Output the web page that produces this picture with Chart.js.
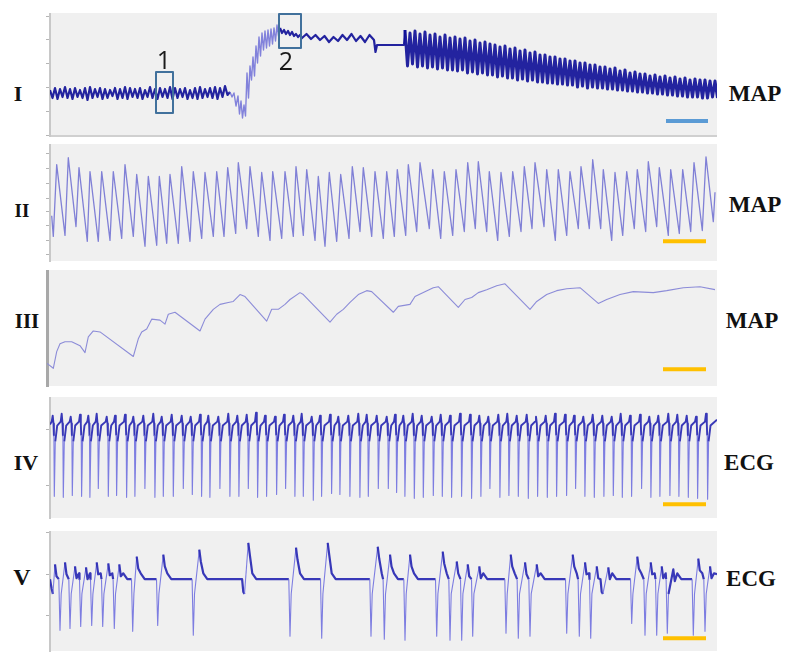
<!DOCTYPE html>
<html><head><meta charset="utf-8">
<script src="https://cdn.jsdelivr.net/npm/chart.js@4.4.0/dist/chart.umd.min.js"></script>
<style>
html,body{margin:0;padding:0;background:#fff;width:800px;height:669px;overflow:hidden;}
.pane{position:absolute;}
.lbl{position:absolute;font-family:'Liberation Serif','DejaVu Serif',serif;font-weight:bold;color:#111;transform:translate(-50%,-50%);white-space:nowrap;line-height:1;}
.num{position:absolute;font-family:'Open Sans','Liberation Sans',sans-serif;color:#1a1a1a;transform:translate(-50%,-50%);line-height:1;}
</style></head><body>
<div class="pane" style="left:44px;top:13px"><canvas id="c1" width="673" height="125"></canvas></div>
<div class="pane" style="left:44px;top:144px"><canvas id="c2" width="673" height="119"></canvas></div>
<div class="pane" style="left:41px;top:270px"><canvas id="c3" width="676" height="118"></canvas></div>
<div class="pane" style="left:44px;top:397px"><canvas id="c4" width="673" height="123"></canvas></div>
<div class="pane" style="left:44px;top:531px"><canvas id="c5" width="673" height="122"></canvas></div>

<div class="lbl" style="left:18px;top:94px;font-size:22px">I</div>
<div class="lbl" style="left:22px;top:210px;font-size:19px">II</div>
<div class="lbl" style="left:27px;top:321px;font-size:21px">III</div>
<div class="lbl" style="left:26px;top:463px;font-size:22px">IV</div>
<div class="lbl" style="left:22px;top:577px;font-size:24px">V</div>
<div class="lbl" style="left:755px;top:93px;font-size:23px">MAP</div>
<div class="lbl" style="left:755px;top:204px;font-size:23px">MAP</div>
<div class="lbl" style="left:752px;top:320px;font-size:23px">MAP</div>
<div class="lbl" style="left:749px;top:462px;font-size:23px">ECG</div>
<div class="lbl" style="left:751px;top:578px;font-size:23px">ECG</div>
<div class="num" style="left:164px;top:59px;font-size:25px">1</div>
<div class="num" style="left:286px;top:60px;font-size:25px">2</div>

<script>
// ---------------- DATA (time in samples, value in panel units) ----------------
// Panel I (MAP): baseline oscillation, transition, plateau, decaying oscillation
const mapI_baseStep = 5;
const mapI_baseHi = [46,48,47,49,47,48,46,48,49,47,48,47,46,48,47,49,48,47,48,46,49,47,48,47,49,48,47,48,46,48,49,47,48,49,48,50];
const mapI_baseLo = [38,37,39,38,37,39,38,36,38,39,37,38,40,37,38,37,39,38,37,39,38,37,39,38,37,38,39,37,38,37,38,39,38,37,39,41];
const mapI_transT = [180,182,184,186,188,189.5,191,192.5,194,195.5,197,198.5,200,201.5,203,204.5,206,207.5,209,210.5,212,213.5,215,216.5,218,219.5,221,222.5,224,225.5,227,228.5,230,232,234,236,238,240,242,244,246,248,250];
const mapI_transV = [44,39,43,30,40,22,35,18,31,20,63,38,70,56,79,60,90,73,99,80,103,86,105,88,106,90,107,92,108,95,111,100,108,103,106,102,105,101,104,100,102,99,101];
const mapI_platT = [252,256.5,261,265.5,270,274.5,279,283.5,288,292.5,297,301.5,306,310.5,315,319.5,324,325.5,327,354];
const mapI_platV = [98,102,97,101,96,100,94,99,95,101,96,102,95,100,94,101,96,84,91,91];
const mapI_decayStart = 355, mapI_decayStep = 5;
const mapI_decayHi = [106,103,105,102,104,101,102,99,101,98,99,97,98,95,96,93,94,92,91,89,90,87,88,85,86,83,84,81,81,79,79,77,77,75,75,73,73,71,71,69,69,67,68,65,66,63,64,62,62,60,61,59,60,58,59,57,58,56,57,56,56,55,55];
const mapI_decayLo = [70,72,69,70,68,69,67,68,66,66,65,66,63,64,62,63,61,61,59,60,58,58,56,57,55,56,54,54,53,53,52,52,51,51,49,50,48,49,48,48,47,47,46,46,45,45,44,44,43,43,42,42,41,41,40,40,39,39,39,38,38,39,38];
const boxI1_x = [106,123], boxI1_y = [23,64];
const boxI2_x = [229,251], boxI2_y = [88,122];
const barI_x = [616,658], barI_y = 15;
const ticksI = [1,25,49,73,96,119];

// Panel II (MAP): troughs and peaks in time order
const mapII_t = [1.7,3.3,6.7,15,18.3,26,29,37.3,40,48.3,51.7,60,63.3,71.7,75,83.3,86.7,95,98.3,106.7,109.3,116.7,120,128.3,131.7,140,143.3,151.7,155,163.3,166.7,174,177.7,185.7,188.3,196.7,200,208.3,211.7,220,222.7,231.7,235,243.3,246,253.3,256.7,265,268.3,275,279.3,286.7,290.7,299,302.3,310,313.3,321.7,325,333.3,336.7,344.3,347.3,355.7,358.3,366.7,370,379.3,382.7,390.7,394.3,402.7,406,414.3,417.7,425.3,428.3,436.7,439.3,447.7,451,459.3,462.7,471,474.3,482,485,494,496.7,505.3,508.3,516.7,520,528.3,531,539.3,542.7,550.7,553.3,561.7,565,572.7,576.7,584.3,587.3,595.7,598.3,606.7,609.3,618.3,620.7,629.3,632.7,640.7,644,652.3,656,663.3,665];
const mapII_v = [46,25,98,26,105,35,95,20,91,20,91,21,91,23,98,25,88,15,86,16,86,18,88,18,96,20,91,23,90,25,91,25,95,28,100,33,96,25,90,21,91,23,91,25,96,26,93,21,86,15,90,20,88,23,96,30,95,25,91,23,91,25,93,26,98,30,100,33,93,23,91,26,93,30,100,33,101,30,91,21,90,25,91,30,96,33,100,35,93,21,93,26,91,33,96,33,103,33,93,21,90,26,91,33,93,30,101,35,95,26,93,28,93,30,100,31,106,40,70];
const barII_x = [613,656], barII_y = 20;
const ticksII = [7,21,36,50,64,79,94,109];

// Panel III (MAP)
const mapIII_t = [0,6.3,9.7,13,18,24.7,33,38,41.3,46.3,53,86.3,91.3,94.7,99.7,104.7,113,118,121.3,128,153,158,166.3,173,181.3,186.3,193,198,219.7,224.7,231.3,238,243,253,256.3,283,289.7,296.3,303,311.3,319.7,324.7,346.3,351.3,363,368,376.3,386.3,391.3,411.3,418,424.7,431.3,439.7,449.7,458,483,489.7,499.7,509.7,519.7,533,551.3,559.7,573,586.3,606.3,619.7,636.3,653,668];
const mapIII_v = [23,18,35,43,45,45,41,34,50,56,55,30,48,55,58,68,67,63,73,75,56,68,78,83,85,86,93,91,66,78,78,83,88,95,93,65,73,78,85,93,97,96,75,81,83,91,95,100,101,80,88,90,95,98,102,104,78,86,93,97,99,100,84,88,93,96,95,97,100,101,98];
const barIII_x = [616,659], barIII_y = 17;
const ticksIII = [];

// Panel IV (ECG): beat times, P/T peak heights, spike depths
const ecgIV_t = [2.7,11.7,20.7,30,38.3,46.7,56.7,65,75,83.3,93.3,103.3,111.7,121.7,131.7,140.7,150,158.3,168.3,178.3,187.3,196.7,206,215,225,234,243.3,251.7,261.7,270,280,288.3,298.3,308.3,316.7,326.7,336.7,345,353.3,362.7,371.7,381.7,390.7,400,410,420,429.3,438.3,448.3,457.3,466.7,476.7,486,495.7,505,515,524,533.3,542.7,552.3,561.7,570.7,580,590,599.3,608.3,618.3,627.3,636.7,646,656];
const ecgIV_peak = [104,106,103,105,104,106,103,104,105,103,104,106,103,105,104,103,105,104,103,106,104,105,107,104,103,105,104,106,103,104,105,103,104,106,105,104,103,105,104,106,104,103,105,104,106,105,104,103,105,106,104,105,103,104,106,105,104,103,105,104,103,106,104,105,103,104,106,105,104,103,106];
const ecgIV_trough = [22,21,23,22,21,30,22,23,21,22,30,21,22,22,30,24,22,21,30,22,22,30,21,22,24,30,22,22,18,22,25,24,22,21,22,30,30,26,22,20,21,23,22,21,22,20,22,30,21,23,22,20,22,21,22,23,30,22,21,22,23,21,22,30,21,22,23,22,21,20,19];
const barIV_x = [613,656], barIV_y = 14;
const ticksIV = [33,90];

// Panel V (ECG): spike times/depths, T-peak times/heights
const ecgV_spikeT = [1.7,10,20,30.7,41.7,52.7,64.3,82.7,107.7,143.3,193.3,240,271.7,321,334.3,355,386.7,400,411.7,422.7,456,468.3,480,516.7,529.3,540.7,551.7,581.7,595,606.7,617.3,643.3,655];
const ecgV_spikeV = [63,21,23,25,26,25,23,20,26,16,60,15,13,15,12,11,15,11,11,15,18,13,15,18,15,13,60,28,16,16,18,16,20];
const ecgV_peakT = [5,15,25,36,46.7,58.3,69.3,86.7,113.3,149.3,198.3,246,277.7,327.7,340,360,392.7,406.7,417.7,429.3,460.7,475,486.7,522.7,535,546.7,558.3,587.3,600.7,611.7,623.3,648.3,660];
const ecgV_peakV = [88,90,86,85,90,89,88,96,98,103,110,105,110,106,98,98,101,91,88,86,98,90,88,98,90,86,85,96,90,86,83,94,86];
const ecgV_base = 73;
const barV_x = [613,656], barV_y = 13;
const ticksV = [36,78,120];

// ---------------- BUILD ----------------
function pairs(ts, vs){ const o=[]; for(let i=0;i<Math.min(ts.length,vs.length);i++) o.push({x:ts[i],y:vs[i]}); return o; }
function hBar(xs, y){ return [{x:xs[0],y:y},{x:xs[1],y:y}]; }
function rect(xs, ys){ return [{x:xs[0],y:ys[0]},{x:xs[1],y:ys[0]},{x:xs[1],y:ys[1]},{x:xs[0],y:ys[1]},{x:xs[0],y:ys[0]}]; }

const ptsI = [];
for (let i=0;i<mapI_baseHi.length;i++){ ptsI.push({x:i*mapI_baseStep,y:mapI_baseHi[i]}); ptsI.push({x:i*mapI_baseStep+mapI_baseStep/2,y:mapI_baseLo[i]}); }
ptsI.push(...pairs(mapI_transT, mapI_transV));
ptsI.push(...pairs(mapI_platT, mapI_platV));
for (let i=0;i<mapI_decayHi.length;i++){ ptsI.push({x:mapI_decayStart+i*mapI_decayStep,y:mapI_decayHi[i]}); ptsI.push({x:mapI_decayStart+i*mapI_decayStep+mapI_decayStep/2,y:mapI_decayLo[i]}); }

const ptsIV = [{x:0,y:95}];
for (let i=0;i<ecgIV_t.length;i++){
  const t=ecgIV_t[i];
  ptsIV.push({x:t-1,y:98},{x:t,y:ecgIV_peak[i]},{x:t+0.8,y:96},{x:t+1.2,y:84},{x:t+1.6,y:ecgIV_trough[i]},{x:t+2.6,y:78},{x:t+4.5,y:94});
}
ptsIV.push({x:667,y:100});

const ptsV = [{x:0,y:ecgV_base}];
for (let i=0;i<ecgV_spikeT.length;i++){
  const s=ecgV_spikeT[i], p=ecgV_peakT[i];
  const next = i+1<ecgV_spikeT.length ? ecgV_spikeT[i+1]-1.2 : 667;
  if (s-1.2>ptsV[ptsV.length-1].x) ptsV.push({x:s-1.2,y:ecgV_base});
  ptsV.push({x:s,y:ecgV_spikeV[i]},{x:s+1.2,y:58},{x:p,y:ecgV_peakV[i]},{x:p+1.5,y:ecgV_peakV[i]-12});
  if (p+4<next) ptsV.push({x:p+4,y:ecgV_base+6});
  if (p+8<next) ptsV.push({x:p+8,y:ecgV_base});
}
ptsV.push({x:667,y:78});

// ---------------- CHARTS ----------------
const bgPlugin = {id:'bg', beforeDraw(chart){const {ctx,chartArea:a}=chart; ctx.save(); ctx.fillStyle='#f0f0f0'; ctx.fillRect(a.left,a.top,a.right-a.left,a.bottom-a.top); ctx.restore();}};

function opts(xMax, yMax, ticksArr, bColor, bWidth, showBottom){
  return {
    responsive:false, animation:false, events:[], devicePixelRatio:1,
    layout:{padding:0},
    plugins:{legend:{display:false}, tooltip:{enabled:false}},
    elements:{point:{radius:0}, line:{tension:0, borderJoinStyle:'round'}},
    scales:{
      x:{type:'linear', min:0, max:xMax, display:showBottom, ticks:{display:false}, grid:{display:false},
         border:{display:true,color:'#d0d0d0',width:2}, afterFit(s){s.height=2;}},
      y:{type:'linear', min:0, max:yMax, ticks:{display:false},
         grid:{display:true, drawOnChartArea:false, drawTicks:true, tickLength:4, tickColor:'#b5b5b5', lineWidth:1},
         border:{display:true,color:bColor,width:bWidth},
         afterFit(s){s.width=6;}, afterBuildTicks(s){s.ticks=ticksArr.map(v=>({value:v}));}}
    }
  };
}
const blueBar = 'rgb(91,155,213)', orangeBar = 'rgb(255,192,0)', boxCol = 'rgb(65,113,156)';
function overlay(data, color, w){ return {data, borderColor:color, borderWidth:w, pointRadius:0, order:0, borderCapStyle:'butt', clip:false}; }

const darkI = 'rgba(12,12,150,0.9)', lightI = 'rgba(110,110,215,0.85)';
const inTrans = c => (c.p0.parsed.x>=180 && c.p1.parsed.x<=230);
new Chart(document.getElementById('c1'), {type:'line', plugins:[bgPlugin],
  data:{datasets:[
    overlay(rect(boxI1_x,boxI1_y), boxCol, 2),
    overlay(rect(boxI2_x,boxI2_y), boxCol, 2),
    overlay(hBar(barI_x,barI_y), blueBar, 4),
    {data:ptsI, order:1, borderWidth:2, borderColor:darkI,
     segment:{borderColor:c=> inTrans(c) ? lightI : darkI,
              borderWidth:c=> inTrans(c) ? 1.4 : (c.p0.parsed.x>=355 ? 3 : 2.2)}}
  ]},
  options:opts(667,123,ticksI,'#c8c8c8',2,true)});

new Chart(document.getElementById('c2'), {type:'line', plugins:[bgPlugin],
  data:{datasets:[
    overlay(hBar(barII_x,barII_y), orangeBar, 4),
    {data:pairs(mapII_t,mapII_v), order:1, borderWidth:1.3, borderColor:'rgb(128,128,214)'}
  ]},
  options:opts(667,119,ticksII,'#c8c8c8',2,false)});

new Chart(document.getElementById('c3'), {type:'line', plugins:[bgPlugin],
  data:{datasets:[
    overlay(hBar(barIII_x,barIII_y), orangeBar, 4),
    {data:pairs(mapIII_t,mapIII_v), order:1, borderWidth:1.1, borderColor:'rgb(140,140,216)'}
  ]},
  options:opts(670,118,ticksIII,'#a8a8a8',3,false)});

const darkE = 'rgba(45,45,180,0.95)', lightE = 'rgba(105,105,222,0.85)';
function ecgSeg(th, wd){ return {borderColor:c=> Math.abs(c.p1.parsed.y-c.p0.parsed.y)>th ? lightE : darkE,
                             borderWidth:c=> Math.abs(c.p1.parsed.y-c.p0.parsed.y)>th ? 1.1 : wd}; }
new Chart(document.getElementById('c4'), {type:'line', plugins:[bgPlugin],
  data:{datasets:[
    overlay(hBar(barIV_x,barIV_y), orangeBar, 4),
    {data:ptsIV, order:1, borderWidth:1.4, borderColor:darkE, segment:ecgSeg(30, 1.9)}
  ]},
  options:opts(667,123,ticksIV,'#c8c8c8',2,false)});

new Chart(document.getElementById('c5'), {type:'line', plugins:[bgPlugin],
  data:{datasets:[
    overlay(hBar(barV_x,barV_y), orangeBar, 4),
    {data:ptsV, order:1, borderWidth:1.4, borderColor:darkE, segment:ecgSeg(25, 2.2)}
  ]},
  options:opts(667,122,ticksV,'#c8c8c8',2,false)});
</script>
</body></html>
